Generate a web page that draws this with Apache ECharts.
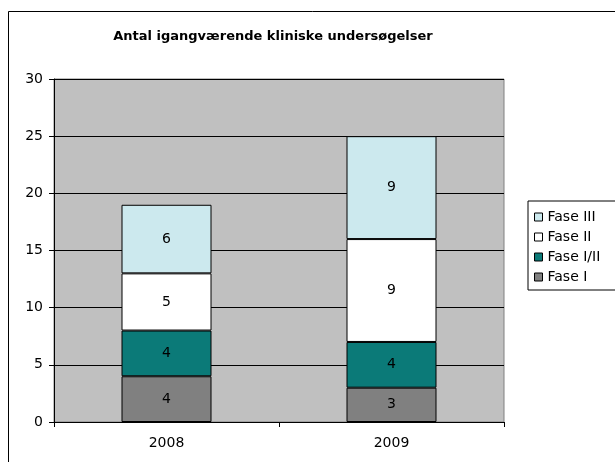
<!DOCTYPE html>
<html>
<head>
<meta charset="utf-8">
<style>
  html, body { margin: 0; padding: 0; background: #fff; }
  #chart { width: 615px; height: 462px; }
</style>
<script src="https://cdn.jsdelivr.net/npm/echarts@6/dist/echarts.min.js"></script>
</head>
<body>
<div id="chart"></div>
<script>
// chart data
const years = ['2008', '2009']
const faseI = [4, 3]
const faseI_II = [4, 4]
const faseII = [5, 9]
const faseIII = [6, 9]
const yTicks = [0, 5, 10, 15, 20, 25, 30]

const font = 'DejaVu Sans'
const chart = echarts.init(document.getElementById('chart'))

function stackSeries(name, data, color) {
  return {
    name: name,
    type: 'bar',
    stack: 'total',
    data: data,
    barWidth: '40%',
    itemStyle: { color: color, borderColor: '#000', borderWidth: 1 },
    label: {
      show: true,
      position: 'inside',
      color: '#000',
      fontFamily: font,
      fontSize: 14
    },
    emphasis: { disabled: true }
  }
}

chart.setOption({
  animation: false,
  graphic: [{
    type: 'rect',
    shape: { x: 8.5, y: 11.5, width: 700, height: 500 },
    style: { fill: null, stroke: '#000', lineWidth: 1 },
    z: -10
  }],
  title: {
    text: 'Antal igangværende kliniske undersøgelser',
    left: 268,
    textAlign: 'center',
    top: 25,
    textStyle: { fontFamily: font, fontWeight: 'bold', fontSize: 13, color: '#000' }
  },
  legend: {
    orient: 'vertical',
    left: 528,
    top: 201,
    data: ['Fase III', 'Fase II', 'Fase I/II', 'Fase I'],
    icon: 'rect',
    itemWidth: 8,
    itemHeight: 8,
    itemGap: 4,
    // box runs past the right edge like the source
    padding: [8, 40, 5, 6],
    borderColor: '#000',
    borderWidth: 1,
    backgroundColor: '#fff',
    itemStyle: { borderColor: '#000', borderWidth: 1 },
    textStyle: { fontFamily: font, fontSize: 14, lineHeight: 16, color: '#000' }
  },
  grid: {
    left: 54,
    right: 111,
    top: 79,
    bottom: 40,
    show: true,
    backgroundColor: '#C0C0C0',
    borderColor: '#808080',
    borderWidth: 1
  },
  xAxis: {
    type: 'category',
    data: years,
    axisLine: { lineStyle: { color: '#000' } },
    axisTick: { show: true, length: 5, lineStyle: { color: '#000' } },
    axisLabel: { fontFamily: font, fontSize: 14, color: '#000', margin: 14 }
  },
  yAxis: {
    type: 'value',
    min: yTicks[0],
    max: yTicks[yTicks.length - 1],
    interval: yTicks[1] - yTicks[0],
    axisLine: { show: true, lineStyle: { color: '#000' } },
    axisTick: { show: true, length: 5, lineStyle: { color: '#000' } },
    axisLabel: { fontFamily: font, fontSize: 14, color: '#000', margin: 11 },
    splitLine: { show: true, lineStyle: { color: '#000', width: 1 } }
  },
  series: [
    stackSeries('Fase I', faseI, '#808080'),
    stackSeries('Fase I/II', faseI_II, '#0B7A78'),
    stackSeries('Fase II', faseII, '#FFFFFF'),
    stackSeries('Fase III', faseIII, '#CCE9EE')
  ]
})
</script>
</body>
</html>
